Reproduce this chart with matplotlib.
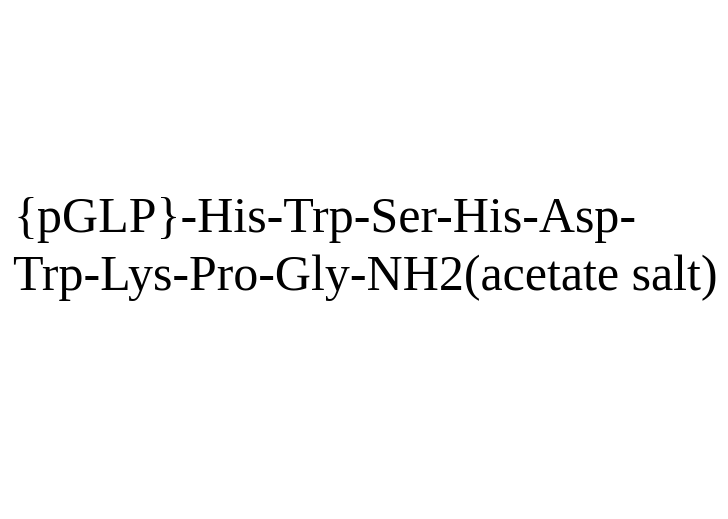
import matplotlib
matplotlib.use("Agg")
import matplotlib.pyplot as plt

# Text lines shown in the picture
TEXT_LINES = [
    "{pGLP}-His-Trp-Ser-His-Asp-",
    "Trp-Lys-Pro-Gly-NH2(acetate salt)",
]


def draw_label():
    fig = plt.figure(figsize=(7.28, 5.19), dpi=100)
    fig.patch.set_facecolor("white")

    # Baselines in figure fraction
    y_positions = [1 - 232 / 519, 1 - 290 / 519]

    for line, y in zip(TEXT_LINES, y_positions):
        fig.text(
            13 / 728,
            y,
            line,
            fontsize=36,
            family="Liberation Serif",
            color="black",
            ha="left",
            va="baseline",
        )

    fig.savefig("out.png", dpi=100)
    plt.close(fig)


if __name__ == "__main__":
    draw_label()
